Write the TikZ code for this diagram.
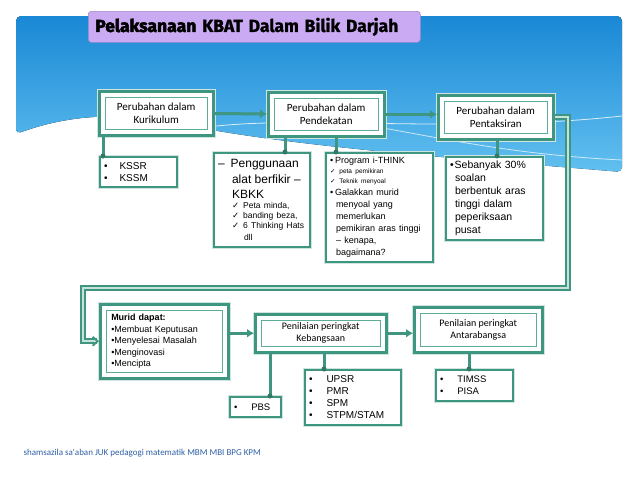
\documentclass[tikz,border=0pt]{standalone}
\usepackage{fontspec}
\setmainfont{Liberation Sans}
\newfontfamily\labelfont{Carlito}
\newfontfamily\tajukfont{Fira Sans}[BoldFeatures={FakeBold=1.2}]
\newfontfamily\tajuktebal{Fira Sans}[BoldFeatures={FakeBold=3}]
\newfontfamily\simbolfont{DejaVu Sans}
\usetikzlibrary{arrows.meta}
\setlength{\parindent}{0pt}

\definecolor{hijau}{RGB}{62,150,128}
\definecolor{hijaumuda}{RGB}{92,172,152}
\definecolor{biruatas}{RGB}{26,136,213}
\definecolor{birubawah}{RGB}{98,192,240}
\definecolor{ungu}{RGB}{202,170,242}
\definecolor{kaki}{RGB}{45,95,165}

\newcommand{\tanda}{{\simbolfont ✓}}

\tikzset{
  kotak/.style={draw=hijau, line width=2.5pt, fill=white, anchor=north west,
    inner sep=0pt, align=center, font=\labelfont\fontsize{11}{12.5}\selectfont,
    preaction={draw=hijau!25, line width=5pt},
    path picture={\draw[hijaumuda, line width=1pt]
      ([shift={(6pt,-6pt)}]path picture bounding box.north west) rectangle
      ([shift={(-6pt,6pt)}]path picture bounding box.south east);}},
  senarai/.style={draw=hijau, line width=2pt, fill=white, anchor=north west,
    align=left, inner sep=4pt, preaction={draw=hijau!25, line width=4pt}},
  panah/.style={hijau, line width=3pt, -{Latex[length=7pt,width=9pt]}},
  gelung/.style={draw=hijau, line width=1.8pt, double=hijaumuda!35!white,
    double distance=2pt, -{Straight Barb[length=5pt,width=9pt]}},
  cabang/.style={hijau, line width=3pt},
  titik/.style={fill=hijau!80!black}
}

\begin{document}
\begin{tikzpicture}[x=1pt, y=-1pt]
\useasboundingbox (0,0) rectangle (638,479);

% latar biru
\fill[top color=biruatas, bottom color=birubawah, rounded corners=5pt]
  (16,134) -- (16,16) -- (622,16) -- (622,172)
  .. controls (480,160) and (300,148) .. (180,124)
  .. controls (110,110) and (60,118) .. (16,134) -- cycle;
\draw[white, line width=0.8pt, opacity=.8]
  (190,130) .. controls (280,112) and (450,135) .. (622,116);
\draw[white, line width=0.8pt, opacity=.7]
  (383,128) .. controls (450,140) and (520,155) .. (622,160);

% tajuk
\node[draw=ungu!80!black, fill=ungu, rounded corners=3pt, line width=0.6pt,
  anchor=north west, minimum width=332pt, minimum height=31pt,
  text width=318pt, align=left, font=\tajukfont\bfseries\fontsize{17.5}{19}\selectfont]
  (tajuk) at (88,11) {{\tajuktebal\bfseries Pelaksanaan} KBAT Dalam Bilik Darjah};

% baris atas
\node[kotak, minimum width=114pt, minimum height=44pt] (kur) at (98,90)
  {Perubahan dalam\\Kurikulum};
\node[kotak, minimum width=116pt, minimum height=44pt] (pend) at (267,91)
  {Perubahan dalam\\Pendekatan};
\node[kotak, minimum width=115pt, minimum height=44pt] (taks) at (437,94)
  {Perubahan dalam\\Pentaksiran};

\draw[panah] (kur) -- (pend);
\draw[panah] (pend.east) -- (pend.east -| taks.west);

% senarai baris atas
\node[senarai, text width=69pt, minimum height=30pt, font=\fontsize{10}{11.7}\selectfont]
  (kssr) at (99,156) {\textbullet\hspace{12pt}KSSR\\\textbullet\hspace{12pt}KSSM};

\node[senarai, text width=88pt, minimum height=94pt] (guna) at (213,152)
  {\fontsize{12}{15.5}\selectfont –\hspace{6pt}Penggunaan\\
   \hspace*{14pt}alat berfikir –\\
   \hspace*{14pt}KBKK\par
   \fontsize{8.5}{10}\selectfont
   \hspace*{14pt}\tanda\hspace{4pt}Peta minda,\\
   \hspace*{14pt}\tanda\hspace{4pt}banding beza,\\
   \hspace*{14pt}\tanda\hspace{4pt}6 Thinking Hats\\
   \hspace*{26pt}dll};

\node[senarai, text width=99pt, minimum height=109pt] (think) at (325,152)
  {\fontsize{9}{11}\selectfont \textbullet\hspace{2pt}Program i-THINK\par
   {\fontsize{6.5}{10}\selectfont \tanda\hspace{4pt}peta pemikiran\\
   \tanda\hspace{4pt}Teknik menyoal\par}
   \fontsize{9}{12}\selectfont
   \textbullet\hspace{2pt}Galakkan murid\\
   \hspace*{6pt}menyoal yang\\
   \hspace*{6pt}memerlukan\\
   \hspace*{6pt}pemikiran aras tinggi\\
   \hspace*{6pt}– kenapa,\\
   \hspace*{6pt}bagaimana?};

\node[senarai, text width=89pt, minimum height=83pt, font=\fontsize{10.5}{13}\selectfont]
  (banyak) at (445,156)
  {\textbullet\hspace{1pt}Sebanyak 30\%\\
   \hspace*{5pt}soalan\\
   \hspace*{5pt}berbentuk aras\\
   \hspace*{5pt}tinggi dalam\\
   \hspace*{5pt}peperiksaan\\
   \hspace*{5pt}pusat};

\coordinate (d1) at (kssr.north -| 103,0);
\coordinate (d2) at (guna.north -| 285,0);
\coordinate (d3) at (think.north -| 336,0);
\coordinate (d4) at (banyak.north -| 497,0);
\draw[cabang] (kur.south -| d1) -- (d1);
\draw[cabang] (pend.south -| d2) -- (d2);
\draw[cabang] (pend.south -| d3) -- (d3);
\draw[cabang] (taks.south -| d4) -- (d4);
\foreach \d in {d1,d2,d3,d4} \fill[titik] (\d) circle (2.5pt);

% gelung ke baris bawah
\coordinate (belok1) at (568,288);
\coordinate (belok2) at (83,288);

% baris bawah
\node[kotak, minimum width=128pt, minimum height=74pt, text width=106pt, align=left,
  font=\fontsize{9}{11.5}\selectfont] (murid) at (99,303)
  {\textbf{Murid dapat:}\\
   \textbullet Membuat Keputusan\\
   \textbullet Menyelesai Masalah\\
   \textbullet Menginovasi\\
   \textbullet Mencipta};
\node[kotak, minimum width=131pt, minimum height=38pt,
  font=\labelfont\fontsize{10}{12}\selectfont] (bangsa) at (254,313)
  {Penilaian peringkat\\Kebangsaan};
\node[kotak, minimum width=128pt, minimum height=45pt,
  font=\labelfont\fontsize{10}{12}\selectfont] (antara) at (413,306)
  {Penilaian peringkat\\Antarabangsa};

\draw[gelung] (taks.east) -| (belok1) -- (belok2) |- (murid.west);
\draw[panah, line width=2.5pt] (murid.east |- bangsa.west) -- (bangsa.west);
\draw[panah, line width=2.5pt] (bangsa.east) -- (bangsa.east -| antara.west);

\node[senarai, text width=43pt, minimum height=20pt, font=\fontsize{9.5}{11}\selectfont]
  (pbs) at (229,396) {\textbullet\hspace{14pt}PBS};
\node[senarai, text width=88pt, minimum height=55pt, font=\fontsize{10}{12}\selectfont]
  (upsr) at (304,369)
  {\textbullet\hspace{14pt}UPSR\\\textbullet\hspace{14pt}PMR\\
   \textbullet\hspace{14pt}SPM\\\textbullet\hspace{14pt}STPM/STAM};
\node[senarai, text width=69pt, minimum height=31pt, font=\fontsize{9.5}{12}\selectfont]
  (timss) at (435,369)
  {\textbullet\hspace{14pt}TIMSS\\\textbullet\hspace{14pt}PISA};

\coordinate (d5) at (pbs.north -| 270,0);
\coordinate (d6) at (upsr.north -| 324,0);
\coordinate (d7) at (timss.north -| 469,0);
\draw[cabang] (bangsa.south -| d5) -- (d5);
\draw[cabang] (bangsa.south -| d6) -- (d6);
\draw[cabang] (antara.south -| d7) -- (d7);
\foreach \d in {d5,d6,d7} \fill[titik] (\d) circle (2.5pt);

% kredit
\node[anchor=west, text=kaki, font=\labelfont\fontsize{9}{10}\selectfont] (kredit)
  at (20,453) {shamsazila sa'aban JUK pedagogi matematik MBM MBI BPG KPM};
\end{tikzpicture}
\end{document}
